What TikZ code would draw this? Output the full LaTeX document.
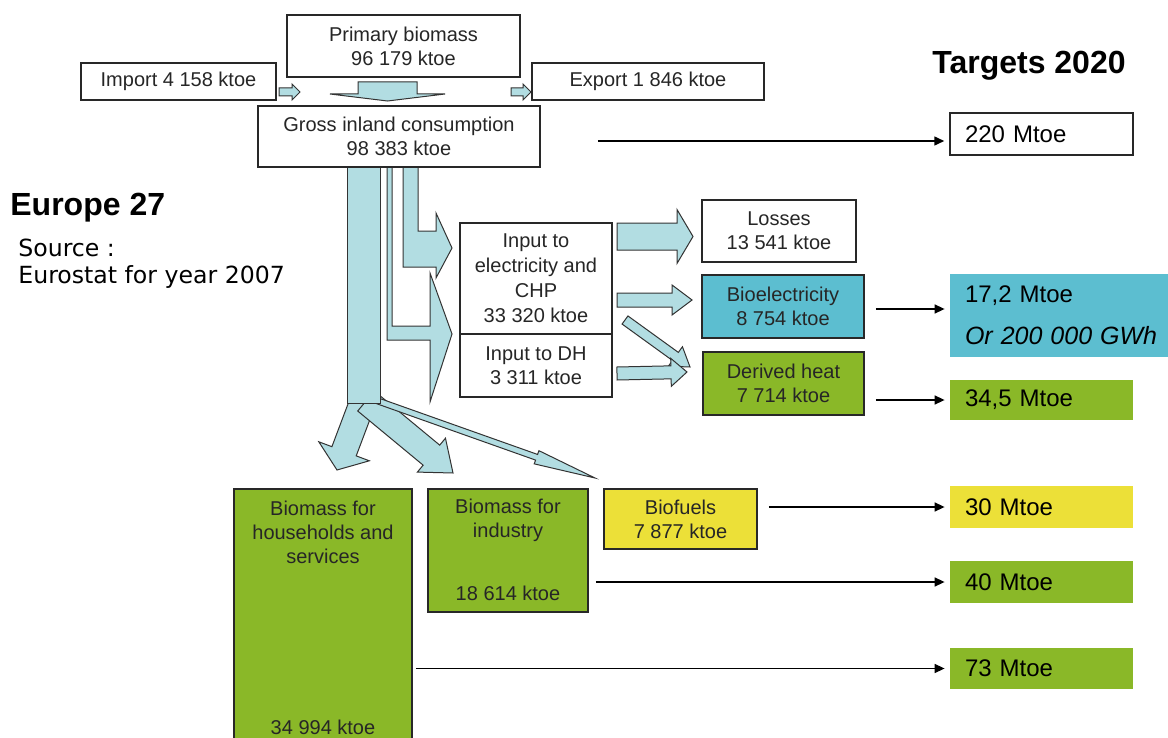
\documentclass[tikz,border=0pt]{standalone}
\usepackage{fontspec}
\setmainfont{Liberation Sans}
\newfontfamily\verd{DejaVu Sans}
\usetikzlibrary{calc,arrows.meta}
\definecolor{flowblue}{RGB}{178,221,226}
\definecolor{elblue}{RGB}{92,190,208}
\definecolor{biogreen}{RGB}{138,184,40}
\definecolor{fuelyellow}{RGB}{236,224,56}
\definecolor{boxline}{RGB}{40,40,40}
\newcommand\flowarr[5]{%
  \coordinate (fah) at ($(#2)!#5!(#1)$);
  \draw[flow] ($(#1)!#3!90:(#2)$) -- ($(fah)!#3!90:(#2)$) -- ($(fah)!#4!90:(#2)$) -- (#2)
    -- ($(fah)!#4!-90:(#2)$) -- ($(fah)!#3!-90:(#2)$) -- ($(#1)!#3!-90:(#2)$) -- cycle;}
\tikzset{
  box/.style={draw=boxline, line width=0.75pt, fill=white, inner sep=0pt, align=center,
    font=\fontsize{10}{12}\selectfont, text=black!85},
  txt/.style={inner sep=0pt, align=center, font=\fontsize{10}{12}\selectfont, text=black!85},
  tgt/.style={inner xsep=7.5pt, inner ysep=0pt, align=left, font=\fontsize{12}{14}\selectfont},
  conn/.style={-{Triangle[length=5pt,width=4.5pt]}, line width=0.75pt, draw=black},
  flow/.style={draw=black!80, line width=0.5pt, fill=flowblue, line join=miter},
  title/.style={inner sep=0pt, font=\bfseries\fontsize{16}{19}\selectfont},
}
\begin{document}
\begin{tikzpicture}[x=0.5pt,y=-0.5pt]
\clip (0,0) rectangle (1168,738);
\fill[white] (0,0) rectangle (1168,738);

% ---- flow arrows (shapes) ----
\coordinate (sA) at (363,401); \coordinate (tA) at (337,470);
\coordinate (sB) at (366,401); \coordinate (tB) at (453,473);
\coordinate (sC) at (378,401); \coordinate (tC) at (595,478);
\flowarr{sA}{tA}{6.5pt}{13.5pt}{10pt}
\flowarr{sB}{tB}{6.5pt}{11pt}{14pt}
\flowarr{sC}{tC}{1.5pt}{3.5pt}{31pt}
\draw[flow] (347,167) rectangle (380,403);
\draw[flow] (403,167) -- (418,167) -- (418,231) -- (436,231) -- (436,213) -- (452,248)
  -- (436,278) -- (436,267) -- (403,267) -- cycle;
\draw[flow] (387,167) -- (392,167) -- (392,326) -- (430,326) -- (430,273) -- (452,334)
  -- (430,402) -- (430,340) -- (387,340) -- cycle;

\coordinate (sI) at (279,92); \coordinate (tI) at (300,92);
\coordinate (sE) at (511,92); \coordinate (tE) at (531,92);
\coordinate (sD) at (387.5,82); \coordinate (tD) at (387.5,101);
\flowarr{sI}{tI}{2pt}{4pt}{4pt}
\flowarr{sE}{tE}{2pt}{4pt}{4pt}
\flowarr{sD}{tD}{14.75pt}{28.75pt}{3.5pt}

\coordinate (sL) at (617,236.5); \coordinate (tL) at (693,236.5);
\coordinate (sEl) at (617,300); \coordinate (tEl) at (692,300);
\coordinate (sG) at (625,320); \coordinate (tG) at (690,367);
\coordinate (sH) at (617,373.5); \coordinate (tH) at (687,372);
\flowarr{sL}{tL}{6.75pt}{13.5pt}{8pt}
\flowarr{sEl}{tEl}{3.5pt}{7.5pt}{10pt}
\flowarr{sG}{tG}{2.5pt}{6pt}{9pt}
\flowarr{sH}{tH}{3.25pt}{7pt}{8pt}

% ---- boxes ----
\node[box, minimum width=116.5pt, minimum height=31pt] (prim) at (403.5,46) {Primary biomass\\96 179 ktoe};
\node[box, minimum width=97.5pt, minimum height=18.5pt] (imp) at (178.5,81.5) {Import 4 158 ktoe};
\node[box, minimum width=116pt, minimum height=18.5pt] (exp) at (648,81.5) {Export 1 846 ktoe};
\node[box, minimum width=141pt, minimum height=30.5pt] (gross) at (399,136.5) {Gross inland consumption\\98 383 ktoe};
\node[box, minimum width=77pt, minimum height=31pt] (loss) at (779,231) {Losses\\13 541 ktoe};
\node[box, minimum width=76pt, minimum height=55.5pt, font=\fontsize{10}{12.5}\selectfont] (inel) at (536,278.5) {Input to\\electricity and\\CHP\\33 320 ktoe};
\node[box, minimum width=76pt, minimum height=31.5pt] (indh) at (536,365.5) {Input to DH\\3 311 ktoe};
\node[box, fill=elblue, minimum width=81pt, minimum height=31.5pt] (bioel) at (783,306.5) {Bioelectricity\\8 754 ktoe};
\node[box, fill=biogreen, minimum width=80.5pt, minimum height=31.5pt] (heat) at (783.5,383.5) {Derived heat\\7 714 ktoe};
\node[box, fill=fuelyellow, minimum width=76.5pt, minimum height=30pt] (fuel) at (680.5,519) {Biofuels\\7 877 ktoe};
\node[box, fill=biogreen, minimum width=80pt, minimum height=61.5pt] (ind) at (508,550.5) {};
\node[txt] (indt) at ($(ind.north)+(0,32)$) {Biomass for\\industry};
\node[txt] (indb) at ($(ind.north)+(0,105)$) {18 614 ktoe};
\node[box, fill=biogreen, minimum width=89pt, minimum height=128pt] (hh) at (323,617) {};
\node[txt] (hht) at ($(hh.north)+(0,44)$) {Biomass for\\households and\\services};
\node[txt] (hhb) at ($(hh.north)+(0,239)$) {34 994 ktoe};

% ---- targets ----
\node[title] (targets) at (1029,66) {Targets 2020};
\node[tgt, draw=boxline, line width=0.75pt, fill=white, text width=76.5pt, minimum height=21pt] (t220) at (1041.5,134) {220 Mtoe};
\node[tgt, fill=elblue, text width=105pt, minimum height=41.5pt] (t172) at (1070,315.5) {17,2 Mtoe\\[7pt]{\fontsize{12.5}{14}\selectfont\itshape Or 200 000 GWh}};
\node[tgt, fill=biogreen, text width=76.5pt, minimum height=20pt] (t345) at (1041.5,400) {34,5 Mtoe};
\node[tgt, fill=fuelyellow, text width=76.5pt, minimum height=21pt] (t30) at (1041.5,507) {30 Mtoe};
\node[tgt, fill=biogreen, text width=76.5pt, minimum height=21pt] (t40) at (1041.5,582) {40 Mtoe};
\node[tgt, fill=biogreen, text width=76.5pt, minimum height=20.5pt] (t73) at (1041.5,668.5) {73 Mtoe};

% ---- left labels ----
\node[title, anchor=west] (eu) at (10,208) {Europe 27};
\node[inner sep=0pt, anchor=west, font=\verd\fontsize{11.8}{14}\selectfont] (src1) at (18,248) {Source :};
\node[inner sep=0pt, anchor=west, font=\verd\fontsize{11.8}{14}\selectfont] (src2) at (18,277) {Eurostat for year 2007};

% ---- connectors ----
\draw[conn] ($(gross.east)+(57,4.5)$) -- ($(t220.west)+(-5,7)$);
\draw[conn] ($(bioel.east)+(11,2.5)$) -- ($(t172.west)+(-5,-6.5)$);
\draw[conn] ($(heat.east |- t345.west)+(11,0)$) -- ($(t345.west)+(-5,0)$);
\draw[conn] ($(fuel.east |- t30.west)+(11,0)$) -- ($(t30.west)+(-5,0)$);
\draw[conn] ($(ind.east |- t40.west)+(7,0)$) -- ($(t40.west)+(-5,0)$);
\draw[conn] ($(hh.east |- t73.west)+(3,0)$) -- ($(t73.west)+(-5,0)$);
\end{tikzpicture}
\end{document}
